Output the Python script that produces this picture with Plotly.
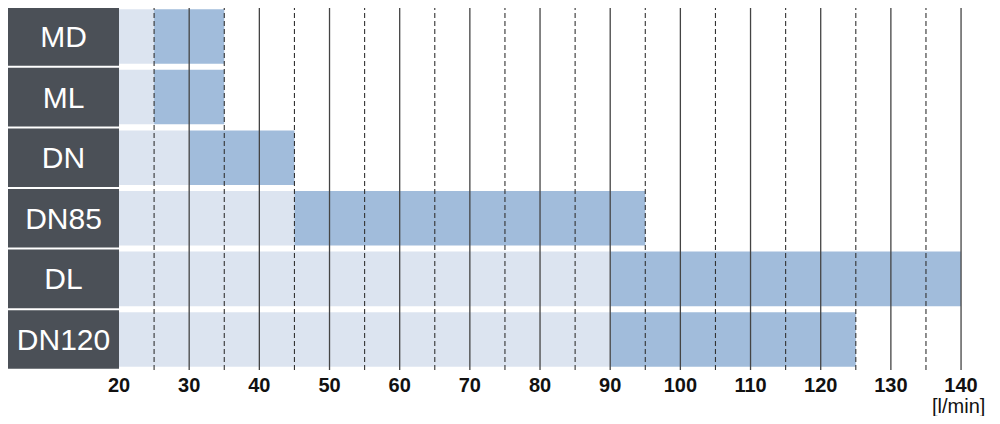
import plotly.graph_objects as go

# ---- data ----
models = ["MD", "ML", "DN", "DN85", "DL", "DN120"]
flow_min = [25, 25, 30, 45, 90, 90]
flow_max = [35, 35, 45, 95, 140, 125]
axis_start = 20
major_ticks = [20, 30, 40, 50, 60, 70, 80, 90, 100, 110, 120, 130, 140]
minor_ticks = [25, 35, 45, 55, 65, 75, 85, 95, 105, 115, 125, 135]
unit_label = "[l/min]"

# ---- style ----
x_left = 4.18
x_right = 144.41
label_color = "#4b5057"
light_color = "#dce4f0"
dark_color = "#a1bcdb"
font_family = "Liberation Sans, Arial, Helvetica, sans-serif"

fig = go.Figure()

# label boxes
fig.add_trace(go.Bar(
    y=models, x=[axis_start - x_left] * len(models), base=x_left,
    orientation="h", width=0.967, marker=dict(color=label_color, line=dict(width=0)),
    text=models, textposition="inside", insidetextanchor="middle",
    textfont=dict(color="white", size=30, family=font_family),
    hoverinfo="skip",
))
# light bars from axis start to range start
fig.add_trace(go.Bar(
    y=models, x=[m - axis_start for m in flow_min], base=axis_start,
    orientation="h", width=0.9, marker=dict(color=light_color, line=dict(width=0)),
    hoverinfo="skip",
))
# dark bars: operating range
fig.add_trace(go.Bar(
    y=models, x=[b - a for a, b in zip(flow_min, flow_max)], base=flow_min,
    orientation="h", width=0.9, marker=dict(color=dark_color, line=dict(width=0)),
    hoverinfo="skip",
))

shapes = []
for v in major_ticks[1:]:
    shapes.append(dict(type="line", xref="x", yref="paper", x0=v, x1=v, y0=0.003, y1=1,
                       line=dict(color="#444444", width=1.3), layer="above"))
for v in minor_ticks:
    shapes.append(dict(type="line", xref="x", yref="paper", x0=v, x1=v, y0=0.003, y1=1,
                       line=dict(color="#333333", width=1.1, dash="5px,3px"), layer="above"))

fig.update_layout(
    width=984, height=408,
    margin=dict(l=0, r=0, t=0, b=45),
    plot_bgcolor="white", paper_bgcolor="white",
    barmode="overlay", showlegend=False,
    shapes=shapes,
    xaxis=dict(range=[x_left, x_right], tickvals=major_ticks, ticktext=[str(t) for t in major_ticks],
               showgrid=False, zeroline=False, showline=False, ticks="",
               tickfont=dict(size=20, color="#111111", family=font_family, weight="bold")),
    yaxis=dict(type="category", categoryorder="array", categoryarray=models,
               range=[5.52, -0.47], showticklabels=False, showgrid=False, zeroline=False),
    annotations=[dict(x=major_ticks[-1], xref="x", y=0, yref="paper", yshift=-35, xshift=-3,
                      text=unit_label, showarrow=False, xanchor="center", yanchor="middle",
                      font=dict(size=20, color="#111111", family=font_family))],
)

fig.write_html("out.html")
